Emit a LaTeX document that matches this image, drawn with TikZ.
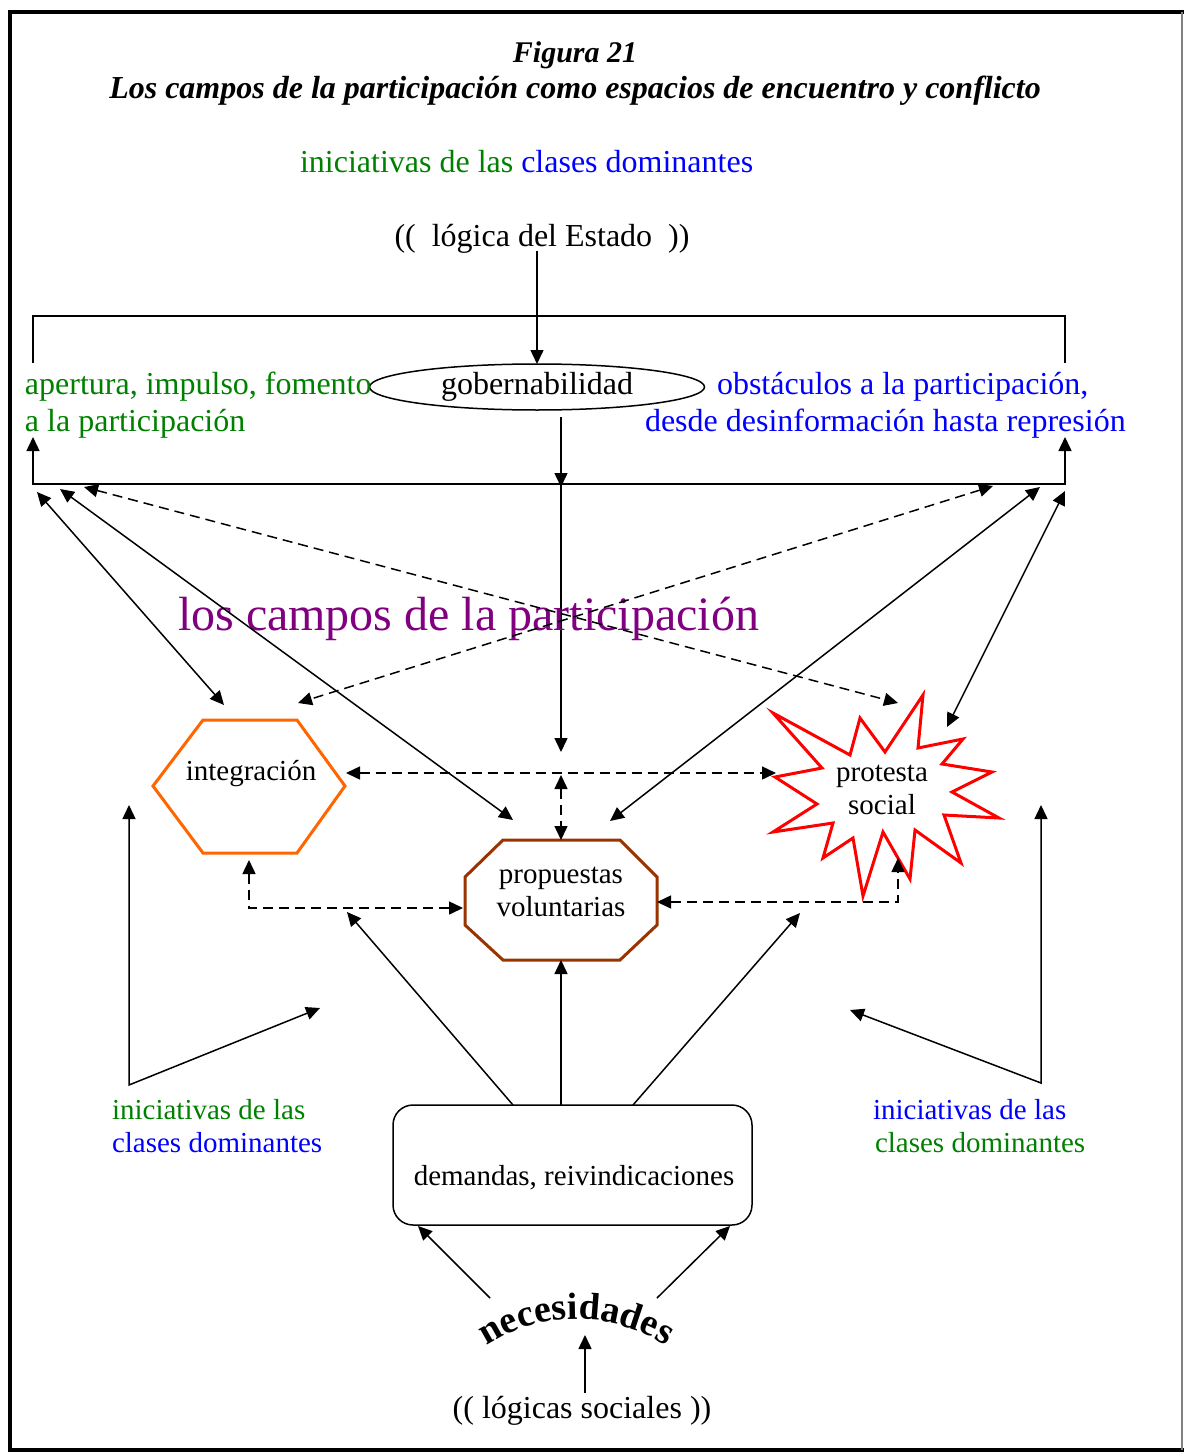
\documentclass[tikz,border=0pt]{standalone}
\usepackage{fontspec}
\setmainfont{Liberation Serif}
\usetikzlibrary{arrows.meta,shapes.geometric,decorations.text}
\definecolor{dgreen}{RGB}{0,128,0}
\definecolor{dblue}{RGB}{0,0,255}
\definecolor{dpurple}{RGB}{128,0,128}
\definecolor{orng}{RGB}{255,102,0}
\definecolor{brwn}{RGB}{153,51,0}
\definecolor{rd}{RGB}{255,0,0}
\begin{document}
\begin{tikzpicture}[x=0.5pt,y=-0.5pt,
  every node/.style={inner sep=0pt,outer sep=0pt},
  big/.style={font=\fontsize{16}{18.5}\selectfont},
  small/.style={font=\fontsize{14.5}{16.5}\selectfont},
  ttl/.style={font=\fontsize{16}{17}\selectfont\bfseries\itshape},
  ah/.tip={Triangle[length=7pt,width=6.5pt]},
  ln/.style={line width=0.75pt},
  one/.style={ln,-ah},
  two/.style={ln,ah-ah},
  dsh/.style={dash pattern=on 5pt off 3pt},
  shapeline/.style={line width=1.5pt,line join=miter},
]
\useasboundingbox (0,0) rectangle (1184,1455);

% page frame
\draw[line width=1.6pt] (1184,12) -- (10,12) -- (10,1450) -- (1184,1450);
\draw[line width=0.8pt,gray] (1182,12) -- (1182,1450);

% heading
\node[ttl,font=\fontsize{15}{17}\selectfont\bfseries\itshape,anchor=base] (fig) at (575,63) {Figura 21};
\node[ttl,anchor=base] (tit) at (575,99) {Los campos de la participación como espacios de encuentro y conflicto};

% upper texts
\node[big,anchor=base west] (initop) at (300,173)
  {\textcolor{dgreen}{iniciativas de las} \textcolor{dblue}{clases dominantes}};
\node[big,anchor=base] (est) at (542,247) {((\ \ lógica del Estado\ \ ))};
\coordinate (estS) at (537,251);

\node[draw,ellipse,ln,big,minimum width=167.5pt,minimum height=23pt] (gob) at (537,387) {gobernabilidad};

% multi-line nodes are placed by the baseline of their last line
\node[big,anchor=base west,align=left,text=dgreen] (ap) at (25,431)
  {apertura, impulso, fomento\\a la participación};
\node[big,anchor=base west,align=left,text=dblue] (obs) at (645,431)
  {\hspace*{36pt}obstáculos a la participación,\\desde desinformación hasta represión};

% bracket of the state field
\coordinate (bTL) at (33,316);  \coordinate (bTR) at (1065,316);
\coordinate (bTLe) at (33,363); \coordinate (bTRe) at (1065,363);
\coordinate (bBL) at (33,484);  \coordinate (bBR) at (1065,484);
\coordinate (bBLe) at (33,437); \coordinate (bBRe) at (1065,437);
\draw[ln] (bTLe) -- (bTL) -- (bTR) -- (bTRe);
\draw[two] (bBLe) -- (bBL) -- (bBR) -- (bBRe);

\draw[one] (estS) -- (gob.north);
\coordinate (gobS) at (561,417);
\coordinate (gobJ) at (561,487);
\coordinate (gobJs) at (561,484);
\coordinate (midT) at (561,752);
\draw[one] (gobS) -- (gobJ);
\draw[one] (gobJs) -- (midT);

\node[font=\fontsize{24}{28}\selectfont,text=dpurple,anchor=base west] (campos) at (178,630)
  {los campos de la participación};

% integración
\draw[orng,shapeline] (153,786) -- (203,720) -- (297,720) -- (345,786) -- (297,853) -- (203,853) -- cycle;
\node[small,anchor=base] (integ) at (251,780) {integración};
\coordinate (intTop) at (224,705);
\coordinate (intTR) at (298,703);
\coordinate (intR) at (346,773);
\coordinate (intB) at (249,860);
\coordinate (intBC) at (249,908);

% propuestas voluntarias
\draw[brwn,shapeline] (503,840) -- (620,840) -- (657,877) -- (657,925) -- (620,960) -- (503,960) -- (465,925) -- (465,877) -- cycle;
\node[small,anchor=base,align=center] (prop) at (561,916) {propuestas\\voluntarias};
\coordinate (propTL) at (513,820);
\coordinate (propTR) at (610,821);
\coordinate (propT) at (561,840);
\coordinate (propL) at (463,908);
\coordinate (propR) at (657,902);
\coordinate (propB) at (561,960);

% protesta social
\draw[rd,shapeline] (773,713) -- (850,755) -- (860,718) -- (885,752) -- (923,695) -- (918,748)
  -- (963,739) -- (942,764) -- (992,772) -- (952,792) -- (999,818) -- (944,815)
  -- (961,863) -- (915,830) -- (910,879) -- (883,832) -- (863,896) -- (853,838)
  -- (823,858) -- (833,823) -- (773,832) -- (817,804) -- (775,777) -- (822,768) -- cycle;
\node[small,anchor=base,align=center] (prot) at (882,814) {protesta\\social};
\coordinate (protTL) at (898,703);
\coordinate (protTR) at (947,727);
\coordinate (protL) at (776,773);
\coordinate (protB) at (898,858);
\coordinate (protBC) at (898,902);

% links from the state field
\coordinate (s1) at (37,492);
\coordinate (s2) at (60,489);
\coordinate (s3) at (84,487);
\coordinate (s4) at (993,486);
\coordinate (s5) at (1040,487);
\coordinate (s6) at (1065,491);
\draw[two] (s1) -- (intTop);
\draw[two] (s2) -- (propTL);
\draw[two,dsh] (s3) -- (protTL);
\draw[two,dsh] (s4) -- (intTR);
\draw[two] (s5) -- (propTR);
\draw[two] (s6) -- (protTR);

% links between the fields
\coordinate (midH) at (561,775);
\draw[two,dsh] (intR) -- (protL);
\draw[two,dsh] (midH) -- (propT);
\draw[two,dsh] (intB) -- (intBC) -- (propL);
\draw[two,dsh] (propR) -- (protBC) -- (protB);

% demandas
\node[draw,ln,rounded corners=10pt,minimum width=179.5pt,minimum height=60pt] (dem) at (572.5,1165) {};
\node[small,anchor=base] (demT) at (574,1185) {demandas, reivindicaciones};
\coordinate (d1) at (513,1105);
\coordinate (d2) at (561,1105);
\coordinate (d3) at (633,1105);
\coordinate (e1) at (347,912);
\coordinate (e3) at (800,913);
\draw[one] (d1) -- (e1);
\draw[one] (d2) -- (propB);
\draw[one] (d3) -- (e3);

% side initiatives
\node[small,anchor=base west,align=left] (iniL) at (112,1152)
  {\textcolor{dgreen}{iniciativas de las}\\\textcolor{dblue}{clases dominantes}};
\node[small,anchor=base west,align=left] (iniR) at (873,1152)
  {\textcolor{dblue}{iniciativas de las}\\\hspace*{1pt}\textcolor{dgreen}{clases dominantes}};
\coordinate (lc) at (129,1085);  \coordinate (lu) at (129,805);  \coordinate (lr) at (320,1008);
\coordinate (rc) at (1041,1083); \coordinate (ru) at (1041,805); \coordinate (rl) at (850,1010);
\draw[two] (lu) -- (lc) -- (lr);
\draw[two] (ru) -- (rc) -- (rl);

% necesidades, set on an arch
\coordinate (necC) at (576,1483);
\path[decorate,decoration={text along path,text align=center,
  text={|\fontsize{19}{23}\selectfont\bfseries|necesidades}}]
  (necC) ++(-132:164) arc[start angle=-132,end angle=-48,radius=164];
\coordinate (n1) at (490,1298);
\coordinate (n2) at (657,1298);
\coordinate (dBL) at (418,1226);
\coordinate (dBR) at (730,1226);
\draw[one] (n1) -- (dBL);
\draw[one] (n2) -- (dBR);

\node[big,anchor=base] (logs) at (582,1418) {(( lógicas sociales ))};
\coordinate (lgT) at (585,1393);
\coordinate (nb) at (585,1335);
\draw[one] (lgT) -- (nb);
\end{tikzpicture}
\end{document}
